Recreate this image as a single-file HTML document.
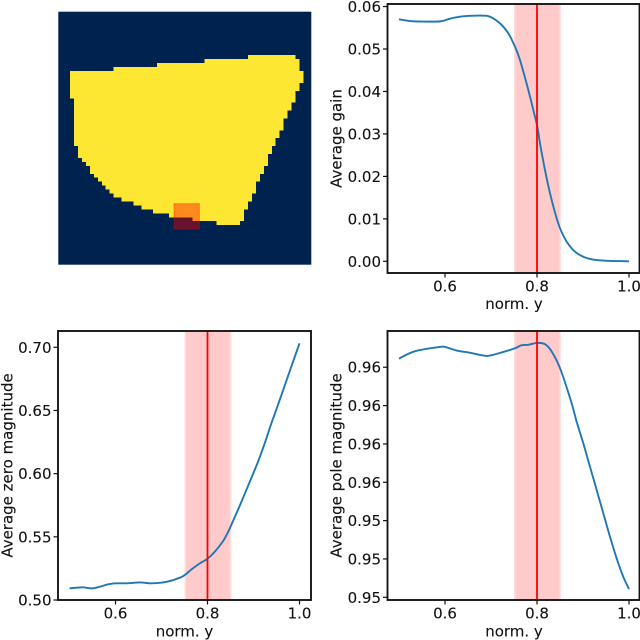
<!DOCTYPE html>
<html lang="en">
<head>
<meta charset="utf-8">
<title>Average gain, zero and pole magnitude against normalised y</title>
<style>
html,body{margin:0;padding:0;background:#fff;width:640px;height:640px;overflow:hidden}
svg{display:block}
text{font-family:"DejaVu Sans","Liberation Sans",sans-serif;fill:#111;font-size:15px;stroke:#111;stroke-width:.12px}
</style>
</head>
<body>
<svg id="figure" xmlns="http://www.w3.org/2000/svg" width="640" height="640" viewBox="0 0 640 640"></svg>
<script>
// ---- Mask image data (row extents in cell indices, first row = 11) ----
const maskFirstRow = 11;
const maskStart = [48,37,25,14,3,3,3,3,3,3,3,4,4,4,4,4,4,4,4,4,4,4,4,5,5,5,6,7,8,8,9,10,11,12,13,14,16,19,21,24,28,34,40];
const maskEnd = [60,61,61,61,62,62,62,61,61,60,60,60,59,59,58,58,57,57,57,56,56,55,55,54,54,53,53,53,52,52,51,51,50,50,50,49,49,48,48,47,47,47,46];
const maskCells = 64;
const patchCols = [29.1,35.85];
const patchRows = [48.4,55.15];

// ---- Shared x axis ----
const xTicks = [0.6,0.8,1.0];
const xTickLabels = ["0.6","0.8","1.0"];
const xLimits = [0.475,1.025];
const markerValue = 0.8;
const bandRange = [0.75,0.85];

// ---- Gain series ----
const gainX = [0.5,0.5239,0.5457,0.5891,0.6109,0.6326,0.6543,0.6833,0.6978,0.7196,0.7377,0.7522,0.763,0.7812,0.792,0.8007,0.8065,0.8174,0.8283,0.8391,0.85,0.8645,0.8826,0.9007,0.9189,0.937,0.9587,0.9804,1.0];
const gainY = [0.05699,0.05659,0.05648,0.05651,0.05714,0.05761,0.05781,0.05785,0.05761,0.05604,0.05369,0.05055,0.04741,0.04033,0.03562,0.0317,0.02778,0.0215,0.01601,0.0115,0.0078,0.00465,0.00226,0.00108,0.00047,0.00024,0.00008,0.00005,0];
const gainTicks = [0,0.01,0.02,0.03,0.04,0.05,0.06];
const gainTickLabels = ["0.00","0.01","0.02","0.03","0.04","0.05","0.06"];
const gainLimits = [-0.00275,0.0606];

// ---- Zero magnitude series ----
const zeroX = [0.5,0.5152,0.5297,0.5478,0.5659,0.5841,0.5986,0.6239,0.6529,0.6783,0.7036,0.7254,0.7471,0.7652,0.7833,0.7992,0.8158,0.8338,0.8447,0.8555,0.8737,0.8918,0.9098,0.9243,0.9388,0.9568,0.9754,1.0];
const zeroY = [0.5092,0.5097,0.51,0.5092,0.5105,0.5124,0.5132,0.5132,0.5139,0.5132,0.5139,0.5158,0.5189,0.5242,0.529,0.5324,0.5382,0.5466,0.5538,0.5625,0.5777,0.5935,0.6094,0.6239,0.6397,0.6581,0.6776,0.7032];
const zeroTicks = [0.5,0.55,0.6,0.65,0.7];
const zeroTickLabels = ["0.50","0.55","0.60","0.65","0.70"];
const zeroLimits = [0.5,0.7129];

// ---- Pole magnitude series ----
const poleX = [0.5,0.5181,0.537,0.5601,0.5891,0.6,0.6254,0.6507,0.6833,0.6978,0.7232,0.7522,0.7667,0.7812,0.8,0.8174,0.8319,0.85,0.8732,0.8862,0.9007,0.9152,0.9297,0.9442,0.9587,0.9732,0.9876,1.0];
const poleY = [0.96245,0.96268,0.96285,0.96296,0.96306,0.96306,0.96287,0.96277,0.96261,0.96261,0.96277,0.96299,0.96315,0.96317,0.96327,0.9632,0.96282,0.96195,0.96029,0.95916,0.95803,0.95681,0.9556,0.95438,0.95316,0.95203,0.95107,0.95043];
const poleTicks = [0.95,0.952,0.954,0.956,0.958,0.96,0.962];
const poleTickLabels = ["0.95","0.95","0.95","0.96","0.96","0.96","0.96"];
const poleLimits = [0.94986,0.96389];

const NS = "http://www.w3.org/2000/svg";
const fig = document.getElementById("figure");

function mk(tag, parent, attrs) {
  const el = document.createElementNS(NS, tag);
  for (const k in attrs) el.setAttribute(k, attrs[k]);
  parent.appendChild(el);
  return el;
}

function smoothPath(pts) {
  let d = "M" + pts[0][0].toFixed(2) + " " + pts[0][1].toFixed(2);
  for (let i = 0; i < pts.length - 1; i++) {
    const p0 = pts[Math.max(i - 1, 0)], p1 = pts[i], p2 = pts[i + 1], p3 = pts[Math.min(i + 2, pts.length - 1)];
    const c1x = p1[0] + (p2[0] - p0[0]) / 6, c1y = p1[1] + (p2[1] - p0[1]) / 6;
    const c2x = p2[0] - (p3[0] - p1[0]) / 6, c2y = p2[1] - (p3[1] - p1[1]) / 6;
    d += "C" + c1x.toFixed(2) + " " + c1y.toFixed(2) + " " + c2x.toFixed(2) + " " + c2y.toFixed(2) + " " + p2[0].toFixed(2) + " " + p2[1].toFixed(2);
  }
  return d;
}

function drawMask() {
  const L = 58.3, T = 11.7, S = 253 / maskCells;
  const g = mk("g", fig, {});
  
  
  const bg = mk("rect", g, {x: L, y: T, width: S * maskCells, height: S * maskCells, fill: "#00224e"});
  
  
  maskStart.forEach(function (start, i) {
    const row = mk("rect", g, {
      x: L + start * S, y: T + (maskFirstRow + i) * S,
      width: (maskEnd[i] - start) * S, height: S,
      fill: "#fde733", "shape-rendering": "crispEdges"
    });
    
    
  });
  const px = L + patchCols[0] * S, py = T + patchRows[0] * S;
  const pw = (patchCols[1] - patchCols[0]) * S, ph = (patchRows[1] - patchRows[0]) * S;
  const patch = mk("rect", g, {x: px + 0.6, y: py + 0.6, width: pw - 1.2, height: ph - 1.2, fill: "#ff0000", "fill-opacity": 0.4, stroke: "#ff0000", "stroke-opacity": 0.25, "stroke-width": 1.2});
  
  
}

function drawPanel(name, box, yLimits, xs, ys, yTicks, yTickLabels, yTitle, ctx) {
  const X = function (v) { return box.l + (v - xLimits[0]) / (xLimits[1] - xLimits[0]) * (box.r - box.l); };
  const Y = function (v) { return box.b - (v - yLimits[0]) / (yLimits[1] - yLimits[0]) * (box.b - box.t); };
  const g = mk("g", fig, {});
  
  

  const band = mk("rect", g, {
    x: X(bandRange[0]) + 0.8, y: box.t, width: X(bandRange[1]) - X(bandRange[0]) - 0.8, height: box.b - box.t,
    fill: "#ffcaca", stroke: "#ffdcdc", "stroke-width": 1.6
  });
  
  

  const pts = xs.map(function (x, i) { return [X(x), Y(ys[i])]; });
  const line = mk("path", g, {d: smoothPath(pts), fill: "none", stroke: "#1f77b4", "stroke-width": 1.9});
  
  

  const marker = mk("line", g, {x1: X(markerValue), x2: X(markerValue), y1: box.t, y2: box.b, stroke: "#ff0000", "stroke-width": 1.8});
  
  

  const frame = mk("rect", g, {x: box.l, y: box.t, width: box.r - box.l - ctx.frameTrim, height: box.b - box.t, fill: "none", stroke: "#161616", "stroke-width": 1.9});
  
  

  xTicks.forEach(function (t, i) {
    const tick = mk("line", g, {x1: X(t), x2: X(t), y1: box.b, y2: box.b + 4.5, stroke: "#111", "stroke-width": 1.2});
    
    
    const lab = mk("text", g, {x: X(t), y: box.b + 18.5, "text-anchor": "middle"});
    lab.textContent = xTickLabels[i];
    
    
  });

  yTicks.forEach(function (t, i) {
    const tick = mk("line", g, {x1: box.l - 4.5, x2: box.l, y1: Y(t), y2: Y(t), stroke: "#111", "stroke-width": 1.2});
    
    
    const lab = mk("text", g, {x: box.l - 6.5, y: Y(t) + 5.5, "text-anchor": "end"});
    lab.textContent = yTickLabels[i];
    
    
  });

  const xt = mk("text", g, {x: (box.l + box.r) / 2, y: box.b + ctx.xTitleOffset, "text-anchor": "middle"});
  xt.textContent = "norm. y";
  
  

  const cy = (box.t + box.b) / 2;
  const yt = mk("text", g, {x: ctx.yTitleX, y: cy, "text-anchor": "middle", transform: "rotate(-90 " + ctx.yTitleX + " " + cy + ")"});
  yt.textContent = yTitle;
  
  
}

drawMask();
drawPanel("gain", {l: 387.5, r: 640.5, t: 4, b: 273}, gainLimits, gainX, gainY, gainTicks, gainTickLabels, "Average gain", {xTitleOffset: 36, yTitleX: 341.5, frameTrim: 1});
drawPanel("zero", {l: 58, r: 311, t: 331, b: 600}, zeroLimits, zeroX, zeroY, zeroTicks, zeroTickLabels, "Average zero magnitude", {xTitleOffset: 36.5, yTitleX: 12.7, frameTrim: 0});
drawPanel("pole", {l: 387.5, r: 640.5, t: 331, b: 600}, poleLimits, poleX, poleY, poleTicks, poleTickLabels, "Average pole magnitude", {xTitleOffset: 36.5, yTitleX: 341.5, frameTrim: 1});
</script>
</body>
</html>
